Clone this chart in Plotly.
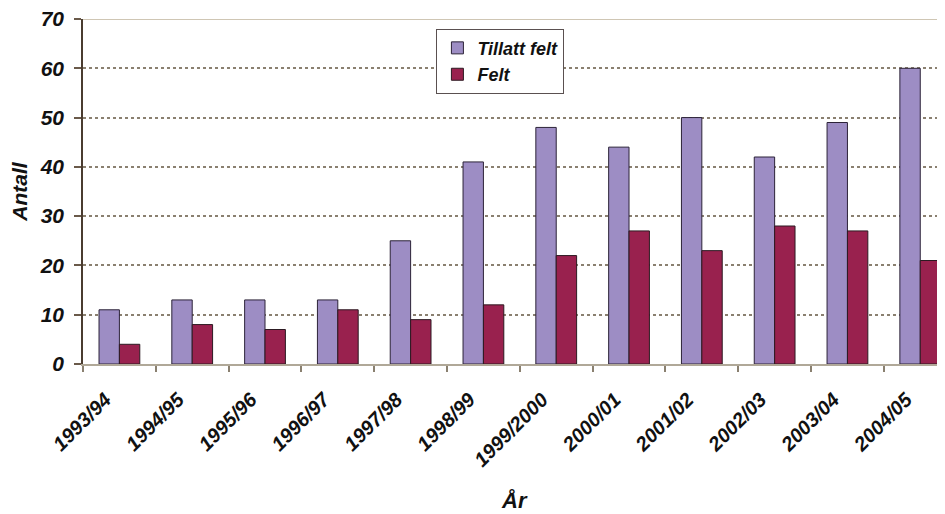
import plotly.graph_objects as go

categories = ["1993/94", "1994/95", "1995/96", "1996/97", "1997/98", "1998/99",
              "1999/2000", "2000/01", "2001/02", "2002/03", "2003/04", "2004/05"]
tillatt_felt = [11, 13, 13, 13, 25, 41, 48, 44, 50, 42, 49, 60]
felt = [4, 8, 7, 11, 9, 12, 22, 27, 23, 28, 27, 21]
y_ticks = [0, 10, 20, 30, 40, 50, 60, 70]

FONT = "Liberation Sans, Arial, sans-serif"
bi = dict(family=FONT, weight="bold", style="italic", color="#111111")

fig = go.Figure()
fig.add_trace(go.Bar(x=categories, y=tillatt_felt, name="Tillatt felt",
                     marker=dict(color="#9d8dc4", line=dict(color="#2c2338", width=1))))
fig.add_trace(go.Bar(x=categories, y=felt, name="Felt",
                     marker=dict(color="#99214e", line=dict(color="#2c1a22", width=1))))

# page body has an 8px margin, so the figure is sized to fit the 945x514 window
fig.update_layout(
    width=937, height=506,
    margin=dict(l=75, r=0, t=11, b=150, autoexpand=False),
    plot_bgcolor="white", paper_bgcolor="white",
    barmode="group", bargap=0.44, bargroupgap=0,
    showlegend=True,
    legend=dict(x=0.41, y=0.972, xanchor="left", yanchor="top",
                bgcolor="white", bordercolor="#5a5050", borderwidth=1,
                font=dict(size=18, **bi), itemwidth=30, tracegroupgap=0),
    xaxis=dict(range=[-0.5, 11.34], tickson="boundaries", ticks="outside", ticklen=6,
               tickcolor="#8a8070", tickwidth=1.5, automargin=False,
               showline=True, linecolor="#b0a898", linewidth=2,
               tickangle=-45, tickfont=dict(size=20, **bi), showgrid=False,
               ticklabelstandoff=14, ticklabelshift=-14, ticklabeloverflow="allow"),
    yaxis=dict(range=[0, 70], tickvals=y_ticks, ticks="outside", ticklen=7,
               tickcolor="#6a5a4a", tickwidth=2, automargin=False,
               showline=True, linecolor="#4a3c30", linewidth=1.5,
               showgrid=True, gridcolor="#8a8070", griddash="dot", gridwidth=1.5,
               tickfont=dict(size=21, **bi), ticklabelstandoff=6,
               ticklabeloverflow="allow", zeroline=False,
               title=dict(text="Antall", font=dict(size=21, **bi), standoff=12)),
    shapes=[dict(type="line", xref="paper", yref="y", x0=0, x1=1, y0=70, y1=70,
                 line=dict(color="#cfc6b4", width=2))],
    annotations=[dict(text="År", xref="paper", yref="paper", x=0.5, y=-0.397,
                      yanchor="middle", showarrow=False, font=dict(size=22, **bi))],
)

fig.write_html("out.html")
